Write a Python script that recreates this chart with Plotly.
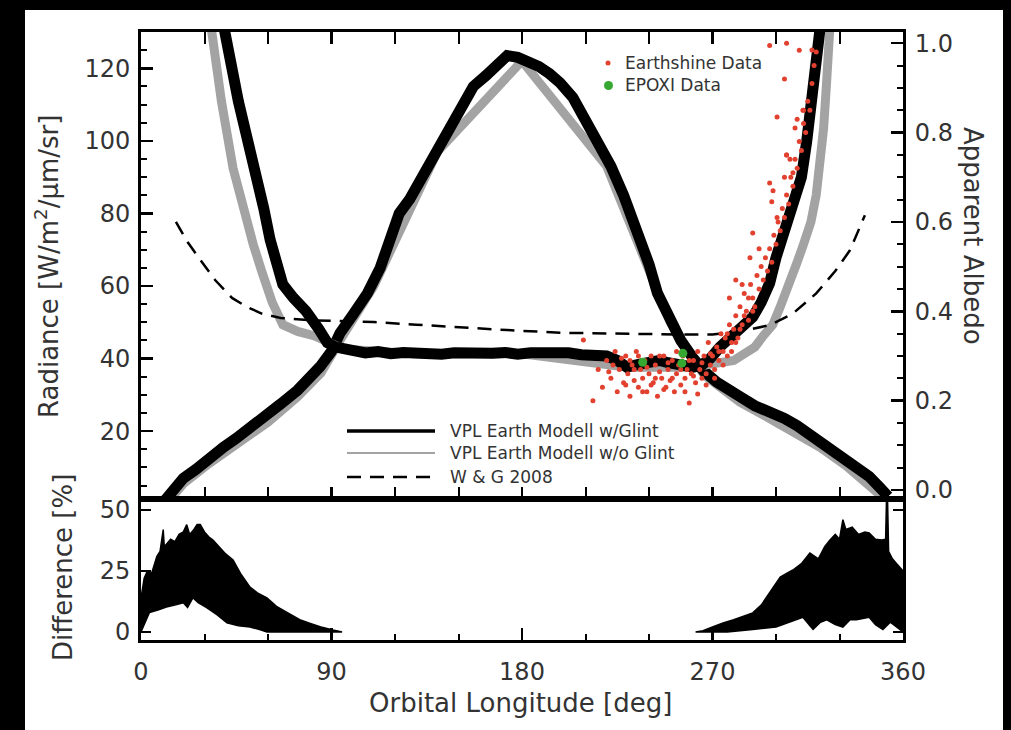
import plotly.graph_objects as go

# ---------------- data ----------------
# Radiance, VPL Earth model with glint  [W/m2/um/sr]
rad_lon = [10, 14, 20, 26, 32, 39, 45, 52, 59.5, 66, 74, 80, 84.5, 90, 94, 100, 107, 113,
           118, 122, 127, 132, 137, 141, 147, 152, 157, 163, 168, 173, 178, 183, 188, 193,
           198, 204, 210, 216, 222, 228, 234, 240, 244, 250, 255, 261, 266, 272, 278, 283,
           290, 297, 304, 310, 316, 321, 327, 333, 338, 344, 349, 353]
rad_val = [0, 3, 7, 9.5, 12.5, 15.6, 18, 21, 24, 27.5, 31.3, 34.5, 37.7, 42, 47, 52, 58, 65,
           73, 80, 84, 89, 94, 97.5, 105, 110, 115, 118, 121, 123.5, 123, 122, 120.5, 118.5,
           116, 112, 106, 100, 93, 85, 76, 66, 58, 51, 45, 40, 36.5, 33.5, 31, 29.5,
           27, 25.5, 23.5, 21.5, 19, 17.5, 15, 12.5, 10, 7.5, 4.5, 2]
# Radiance, VPL Earth model without glint
rad_nog_lon = [12, 20, 32, 45, 60, 74, 85, 94, 110, 140, 180, 220, 250, 266, 283, 297, 310, 321, 333, 344, 350]
rad_nog_val = [0, 5.5, 11, 16.5, 22.5, 29.5, 36, 45, 60, 97, 122, 93, 50, 35.5, 28, 23.5, 19.5, 15.5, 10.5, 5.5, 2]

# Apparent albedo, with glint
alb_lon = [39, 42, 46, 50, 54, 58, 61, 64, 67, 72, 78, 84, 88, 92, 96, 100, 106, 112, 118,
           124, 130, 136, 142, 148, 154, 160, 166, 172, 178, 184, 190, 196, 202, 208, 214,
           220, 225, 229.5, 234, 238, 242, 245, 249, 253, 257, 261, 265, 269, 273.5, 278,
           282, 286, 289, 293, 297, 300, 303, 306, 309, 312, 314.5, 316.5, 318, 319.5, 321]
alb_val = [1.04, 0.96, 0.87, 0.79, 0.72, 0.63, 0.56, 0.50, 0.46, 0.43, 0.40, 0.36, 0.33, 0.32,
           0.315, 0.31, 0.307, 0.31, 0.305, 0.308, 0.306, 0.31, 0.304, 0.307, 0.305, 0.309,
           0.306, 0.308, 0.304, 0.307, 0.309, 0.305, 0.307, 0.303, 0.30, 0.30, 0.29, 0.275,
           0.28, 0.285, 0.29, 0.29, 0.285, 0.28, 0.275, 0.275, 0.28, 0.295, 0.32, 0.34, 0.355,
           0.37, 0.387, 0.42, 0.463, 0.52, 0.57, 0.61, 0.65, 0.70, 0.78, 0.85, 0.92, 0.98, 1.04]
# Apparent albedo, without glint
alb_nog_lon = [33, 38, 43.5, 48, 53, 57, 62, 67, 74, 82, 90, 96, 130, 180, 230, 260, 280,
               286, 290, 294, 298.5, 302, 306.5, 310, 313, 316.5, 319, 321, 322.5, 324, 325.5]
alb_nog_val = [1.04, 0.87, 0.72, 0.63, 0.55, 0.49, 0.42, 0.37, 0.355, 0.345, 0.325, 0.315,
               0.305, 0.305, 0.275, 0.275, 0.29, 0.31, 0.32, 0.345, 0.37, 0.41, 0.46, 0.51,
               0.55, 0.60, 0.66, 0.73, 0.81, 0.92, 1.04]

# W & G 2008 apparent albedo
wg_lon = [16.5, 22, 28, 35, 43, 50, 57, 66, 80, 95, 110, 130, 150, 173, 198, 220, 240, 255,
          270, 283, 297, 308, 319, 328, 335, 342]
wg_alb = [0.60, 0.555, 0.515, 0.47, 0.43, 0.41, 0.395, 0.385, 0.38, 0.378, 0.376, 0.37, 0.364,
          0.358, 0.352, 0.35, 0.349, 0.348, 0.348, 0.355, 0.369, 0.395, 0.44, 0.49, 0.537, 0.615]

# Difference [%] envelopes
diffL_up_lon = [0, 1.5, 3, 5, 7.5, 9, 10.5, 11, 12, 14, 16, 18, 20, 21.6, 23, 25, 26.5, 28, 30,
                32, 34, 37, 40, 43.5, 47, 51.5, 55, 59.5, 64, 70, 75, 80, 85, 90.7, 95]
diffL_up = [14, 22, 25, 24, 31, 33, 42, 35, 36, 38, 37, 40, 41, 44, 40, 42, 44, 44, 41,
            39, 37.7, 35, 32, 29.5, 24, 18.4, 16, 14, 10.5, 7.5, 5, 3.5, 2, 0.8, 0]
diffL_lo_lon = [0, 2, 4, 8, 12, 16, 20, 22, 24.5, 27, 31, 36, 40.6, 46, 51.5, 56, 59.5, 65, 95]
diffL_lo = [0, 4, 8, 9, 10.2, 11, 12, 10, 14, 12, 10, 7, 3.7, 2.5, 2, 1, 0, 0, 0]
diffR_up_lon = [262, 265.5, 270, 275, 280, 285, 289, 293, 297, 300, 302, 305, 308, 312, 316,
                320, 323, 325.5, 328, 330, 331.6, 333, 336, 339, 342, 344, 347, 350, 351.8,
                352.2, 352.7, 353.2, 355, 357, 359, 360]
diffR_up = [0, 0.5, 2, 3.7, 5, 6.5, 7.8, 11, 16, 20, 22.5, 24, 25.4, 28, 32.4, 30, 35, 37.7,
            40, 38, 46, 42, 43, 40, 41, 40.6, 38, 37.7, 38, 54.5, 54.5, 33, 30, 28, 26, 25]
diffR_lo_lon = [262, 277, 289, 300, 306, 312.7, 317.5, 321, 324, 328, 331.6, 335, 338, 344,
                347, 350.5, 354, 357, 360]
diffR_lo = [0, 0, 1, 2, 4, 6, 1, 4, 5, 3, 2, 5, 5, 6, 3, 1, 4, 2, 0]

# Earthshine data (apparent albedo)
earthshine_lon = [209, 213.5, 216, 218, 220, 221, 222, 223, 224, 225,
                  226, 227, 228, 229, 229, 230, 231, 231, 232, 233,
                  233, 234, 235, 235, 236, 237, 237, 238, 239, 239,
                  240, 241, 241, 242, 243, 243, 244, 245, 245, 246,
                  247, 247, 248, 249, 249, 250, 251, 251, 252, 253,
                  253, 254, 255, 255, 256, 257, 257, 258, 259, 259,
                  260, 261, 261, 262, 263, 263, 264, 265, 265, 266,
                  267, 267, 268, 269, 269, 270, 271, 271, 272, 273,
                  273, 274, 275, 275, 276, 277, 277, 278, 279, 279,
                  280, 281, 281, 282, 283, 283, 284, 285, 285, 286,
                  287, 287, 288, 289, 289, 290, 291, 292, 292, 293,
                  294, 295, 296, 297, 297, 298, 298, 299, 300, 300.5,
                  301, 302, 303, 304, 304, 305, 305, 306, 307, 308,
                  308, 309, 310, 310, 311, 312, 313, 313, 314, 315,
                  316, 317, 318, 319, 297, 304, 311, 317, 289, 287.7,
                  284, 278, 281, 300.5, 305, 298.6, 306.6, 309, 312.7, 305]
earthshine_alb = [0.336, 0.20, 0.27, 0.23, 0.29, 0.265, 0.25, 0.28, 0.31, 0.22,
                  0.27, 0.295, 0.24, 0.30, 0.235, 0.26, 0.21, 0.29, 0.28, 0.245,
                  0.27, 0.31, 0.23, 0.30, 0.27, 0.25, 0.22, 0.29, 0.22, 0.275,
                  0.26, 0.30, 0.235, 0.24, 0.28, 0.25, 0.21, 0.265, 0.30, 0.25,
                  0.30, 0.225, 0.23, 0.27, 0.285, 0.245, 0.29, 0.25, 0.22, 0.26,
                  0.31, 0.28, 0.235, 0.27, 0.30, 0.25, 0.22, 0.27, 0.195, 0.29,
                  0.26, 0.29, 0.255, 0.24, 0.31, 0.215, 0.27, 0.25, 0.285, 0.30,
                  0.26, 0.235, 0.33, 0.28, 0.305, 0.30, 0.27, 0.25, 0.32, 0.29,
                  0.31, 0.35, 0.31, 0.28, 0.34, 0.30, 0.35, 0.37, 0.33, 0.31,
                  0.36, 0.39, 0.33, 0.34, 0.41, 0.36, 0.37, 0.44, 0.39, 0.40,
                  0.38, 0.43, 0.46, 0.43, 0.40, 0.41, 0.48, 0.45, 0.54, 0.50,
                  0.47, 0.52, 0.49, 0.54, 0.687, 0.51, 0.645, 0.57, 0.55, 0.61,
                  0.60, 0.58, 0.63, 0.61, 0.70, 0.66, 0.75, 0.64, 0.70, 0.68,
                  0.71, 0.74, 0.72, 0.83, 0.78, 0.76, 0.82, 0.85, 0.80, 0.87,
                  0.85, 0.91, 0.95, 0.98, 0.995, 0.92, 0.984, 0.985, 0.575, 0.52,
                  0.46, 0.43, 0.47, 0.835, 0.75, 0.67, 0.74, 0.81, 0.85, 1.0]
# EPOXI data
epoxi_lon = [237, 255.5, 256]
epoxi_alb = [0.286, 0.284, 0.306]

x_ticks = [0, 90, 180, 270, 360]
rad_ticks = [20, 40, 60, 80, 100, 120]
alb_ticks = [0.0, 0.2, 0.4, 0.6, 0.8, 1.0]
diff_ticks = [0, 25, 50]

line_legend = ["VPL Earth Modell w/Glint", "VPL Earth Modell w/o Glint", "W & G 2008"]
data_legend = ["Earthshine Data", "EPOXI Data"]

# ---------------- geometry ----------------
W, H = 1011, 730
L, R, T, B = 141, 903, 32, 640
SPLIT = 499
pw, ph = R - L, B - T


def px(x):
    return (x - L) / pw


def py(y):
    return (B - y) / ph


split_dom = py(SPLIT)
TXT = "#333333"
FONT = "DejaVu Sans"
GRAY = "#a3a3a3"
RED = "#e2412f"
GREEN = "#36a832"

fig = go.Figure()

# gray (no glint) curves
fig.add_trace(go.Scatter(x=rad_nog_lon, y=rad_nog_val, mode="lines", xaxis="x", yaxis="y",
                         line=dict(color=GRAY, width=9), showlegend=False))
fig.add_trace(go.Scatter(x=alb_nog_lon, y=alb_nog_val, mode="lines", xaxis="x", yaxis="y3",
                         line=dict(color=GRAY, width=9), showlegend=False))
# black (with glint) curves
fig.add_trace(go.Scatter(x=rad_lon, y=rad_val, mode="lines", xaxis="x", yaxis="y",
                         line=dict(color="black", width=11), showlegend=False))
fig.add_trace(go.Scatter(x=alb_lon, y=alb_val, mode="lines", xaxis="x", yaxis="y3",
                         line=dict(color="black", width=11), showlegend=False))
# W & G 2008
fig.add_trace(go.Scatter(x=wg_lon, y=wg_alb, mode="lines", xaxis="x", yaxis="y3",
                         line=dict(color="black", width=2.5, dash="14px,9px"), showlegend=False))
# Earthshine / EPOXI
fig.add_trace(go.Scatter(x=earthshine_lon, y=earthshine_alb, mode="markers", xaxis="x", yaxis="y3",
                         marker=dict(color=RED, size=5, line=dict(width=0)), showlegend=False))
fig.add_trace(go.Scatter(x=epoxi_lon, y=epoxi_alb, mode="markers", xaxis="x", yaxis="y3",
                         marker=dict(color=GREEN, size=9, line=dict(width=0)), showlegend=False))

# difference panel (filled envelopes)
for up_x, up_y, lo_x, lo_y in [(diffL_up_lon, diffL_up, diffL_lo_lon, diffL_lo),
                               (diffR_up_lon, diffR_up, diffR_lo_lon, diffR_lo)]:
    fig.add_trace(go.Scatter(x=list(up_x) + list(lo_x)[::-1], y=list(up_y) + list(lo_y)[::-1],
                             mode="lines", fill="toself", fillcolor="black", xaxis="x2", yaxis="y2",
                             line=dict(color="black", width=1.5), showlegend=False))

tickfont = dict(family=FONT, size=24, color=TXT)
common = dict(showline=True, linecolor="black", linewidth=3, ticks="inside", tickcolor="black",
              showgrid=False, zeroline=False, tickfont=tickfont)

fig.update_layout(
    width=W, height=H,
    margin=dict(l=L, r=W - R, t=T, b=H - B),
    paper_bgcolor="black", plot_bgcolor="rgba(0,0,0,0)",
    hovermode=False,
    xaxis=dict(domain=[0, 1], anchor="y", range=[0, 360], tickvals=x_ticks, showticklabels=False,
               ticklen=12, tickwidth=2.5, mirror="allticks",
               minor=dict(dtick=30, tick0=0, ticks="inside", ticklen=6, tickwidth=2, tickcolor="black"),
               **common),
    yaxis=dict(domain=[split_dom, 1], anchor="x", range=[1.3, 130], tickvals=rad_ticks,
               ticklen=12, tickwidth=2.5, mirror=True, ticklabelstandoff=3,
               minor=dict(dtick=5, tick0=0, ticks="inside", ticklen=6, tickwidth=2, tickcolor="black"),
               **common),
    yaxis3=dict(overlaying="y", anchor="x", side="right", range=[-0.02, 1.025], tickvals=alb_ticks,
                tickformat=".1f", ticklen=12, tickwidth=2.5, ticklabelstandoff=4,
                minor=dict(dtick=0.05, tick0=0, ticks="inside", ticklen=6, tickwidth=2, tickcolor="black"),
                **common),
    xaxis2=dict(domain=[0, 1], anchor="y2", range=[0, 360], tickvals=x_ticks,
                ticklen=12, tickwidth=2.5, mirror=True, ticklabelstandoff=8,
                minor=dict(dtick=30, tick0=0, ticks="inside", ticklen=6, tickwidth=2, tickcolor="black"),
                **common),
    yaxis2=dict(domain=[0, split_dom], anchor="x2", range=[-3.3, 54.5], tickvals=diff_ticks,
                ticklen=10, tickwidth=2.5, mirror="allticks", ticklabelstandoff=3, **common),
)

shapes = [
    # white figure background inside the black frame
    dict(type="rect", xref="paper", yref="paper", x0=px(25), x1=px(1003), y0=py(H + 5), y1=py(10),
         fillcolor="white", line=dict(width=0), layer="below"),
]
# line legend samples
leg_y = [431, 453, 477]
leg_styles = [dict(color="black", width=3.5), dict(color=GRAY, width=2),
              dict(color="black", width=2.5, dash="14px,9px")]
for yy, st in zip(leg_y, leg_styles):
    shapes.append(dict(type="line", xref="paper", yref="paper", x0=px(347), x1=px(435),
                       y0=py(yy), y1=py(yy), line=st))
# data legend markers
shapes.append(dict(type="circle", xref="paper", yref="paper", x0=px(605.5), x1=px(610.5),
                   y0=py(65.5), y1=py(60.5), fillcolor=RED, line=dict(width=0)))
shapes.append(dict(type="circle", xref="paper", yref="paper", x0=px(604), x1=px(613),
                   y0=py(90), y1=py(81), fillcolor=GREEN, line=dict(width=0)))

annotations = []
for yy, txt in zip(leg_y, line_legend):
    annotations.append(dict(x=px(448), y=py(yy), xref="paper", yref="paper", text=txt,
                            showarrow=False, xanchor="left", yanchor="middle",
                            font=dict(family=FONT, size=17, color=TXT)))
for yy, txt in zip([63, 85], data_legend):
    annotations.append(dict(x=px(623), y=py(yy), xref="paper", yref="paper", text=txt,
                            showarrow=False, xanchor="left", yanchor="middle",
                            font=dict(family=FONT, size=17, color=TXT)))

titlefont = dict(family=FONT, size=26, color=TXT)
annotations += [
    dict(x=px(47), y=py(267), xref="paper", yref="paper", text="Radiance [W/m<sup>2</sup>/μm/sr]",
         textangle=-90, showarrow=False, xanchor="center", yanchor="middle", font=titlefont),
    dict(x=px(63), y=py(568), xref="paper", yref="paper", text="Difference [%]",
         textangle=-90, showarrow=False, xanchor="center", yanchor="middle", font=titlefont),
    dict(x=px(973), y=py(236), xref="paper", yref="paper", text="Apparent Albedo",
         textangle=90, showarrow=False, xanchor="center", yanchor="middle", font=titlefont),
    dict(x=px(520), y=py(703), xref="paper", yref="paper", text="Orbital Longitude [deg]",
         showarrow=False, xanchor="center", yanchor="middle", font=titlefont),
]

fig.update_layout(shapes=shapes, annotations=annotations)
fig.write_html("out.html", config={"displayModeBar": False, "staticPlot": True},
               post_script="document.body.style.margin='0';document.body.style.overflow='hidden';")
